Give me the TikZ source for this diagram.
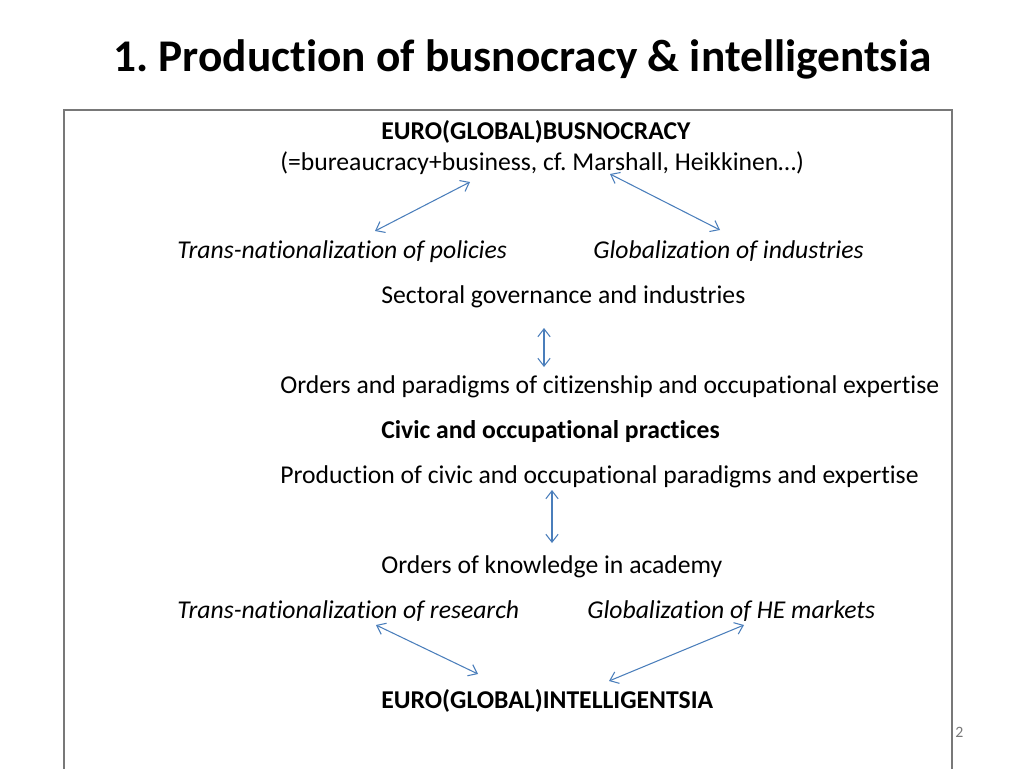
\documentclass[tikz,border=0pt]{standalone}
\usepackage{fontspec}
\setmainfont{Carlito}[Ligatures={NoCommon}]
\usetikzlibrary{arrows.meta}
\frenchspacing

\begin{document}
\begin{tikzpicture}[x=0.02cm, y=-0.02cm,
  >={Straight Barb[length=4.5pt,width=7pt]},
  txt/.style={anchor=base west, inner sep=0pt, font=\fontsize{14.6}{17}\selectfont},
  link/.style={<->, color=linkblue, line width=0.6pt}]

\definecolor{linkblue}{RGB}{74,126,187}
\definecolor{framegrey}{RGB}{120,120,120}

\useasboundingbox (0,0) rectangle (1024,768);

\draw[framegrey, line width=0.8pt] (64,800)--(64,110)--(952,110)--(952,800);

\node[anchor=base west, inner sep=0pt, font=\fontsize{25.8}{30}\selectfont\bfseries] (title) at (113,71) {1. Production of busnocracy \& intelligentsia};

\node[txt, font=\fontsize{14.6}{17}\selectfont\bfseries] (busno) at (381,139) {EURO(GLOBAL)BUSNOCRACY};
\node[txt] (bureau) at (280,170) {(=bureaucracy+business, cf. Marshall, Heikkinen…)};
\node[txt, font=\fontsize{14.6}{17}\selectfont\itshape] (policies) at (177,258) {Trans-nationalization of policies};
\node[txt, font=\fontsize{14.6}{17}\selectfont\itshape] (industries) at (593,258) {Globalization of industries};
\node[txt] (sectoral) at (381,303) {Sectoral governance and industries};
\node[txt] (orders) at (280,393) {Orders and paradigms of citizenship and occupational expertise};
\node[txt, font=\fontsize{14.6}{17}\selectfont\bfseries] (civic) at (381,438) {Civic and occupational practices};
\node[txt] (production) at (280,483) {Production of civic and occupational paradigms and expertise};
\node[txt] (knowledge) at (381,573) {Orders of knowledge in academy};
\node[txt, font=\fontsize{14.6}{17}\selectfont\itshape] (research) at (177,618) {Trans-nationalization of research};
\node[txt, font=\fontsize{14.6}{17}\selectfont\itshape] (markets) at (587,618) {Globalization of HE markets};
\node[txt, font=\fontsize{14.6}{17}\selectfont\bfseries] (intelli) at (381,708) {EURO(GLOBAL)INTELLIGENTSIA};

\node[anchor=base west, inner sep=0pt, text=framegrey, font=\fontsize{9}{11}\selectfont] (page) at (955,737) {2};

% arrow ends
\coordinate (a1) at (375,231); \coordinate (b1) at (470,182);
\coordinate (a2) at (610,174); \coordinate (b2) at (720,230);
\coordinate (a3) at (544,328); \coordinate (b3) at (544,367);
\coordinate (a4) at (552,490); \coordinate (b4) at (552,543);
\coordinate (a5) at (376,625); \coordinate (b5) at (478,674);
\coordinate (a6) at (744,625); \coordinate (b6) at (609,681);

\draw[link] (a1)--(b1);
\draw[link] (a2)--(b2);
\draw[link] (a3)--(b3);
\draw[link] (a4)--(b4);
\draw[link] (a5)--(b5);
\draw[link] (a6)--(b6);

\end{tikzpicture}
\end{document}
